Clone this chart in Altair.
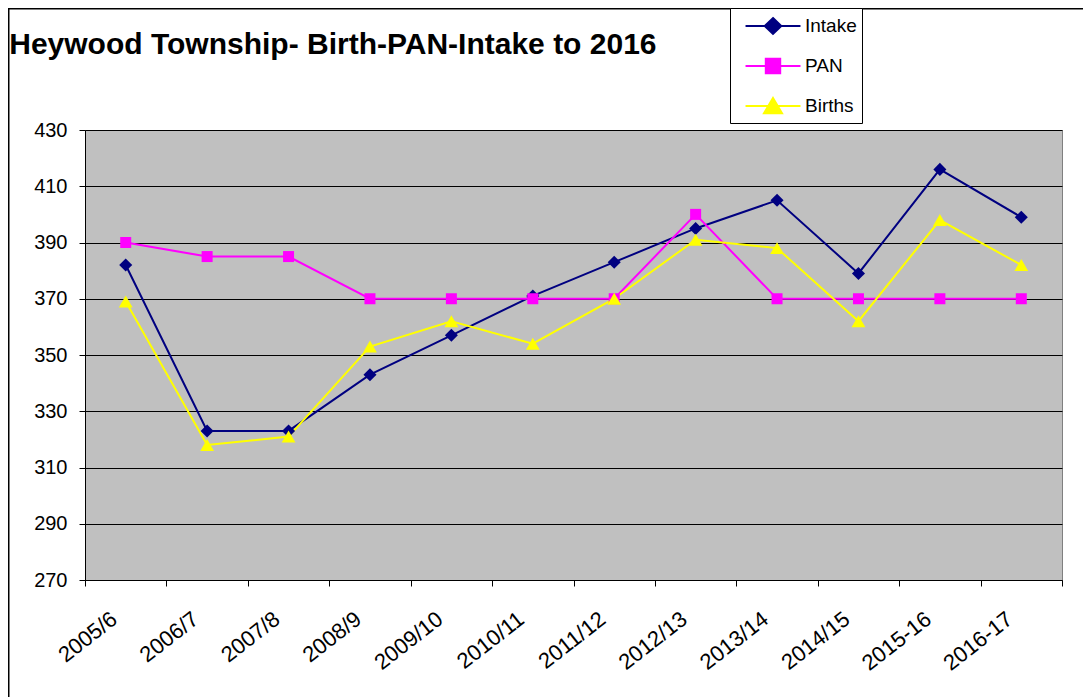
import altair as alt
import pandas as pd

categories = ["2005/6", "2006/7", "2007/8", "2008/9", "2009/10", "2010/11",
              "2011/12", "2012/13", "2013/14", "2014/15", "2015-16", "2016-17"]
intake = [382, 323, 323, 343, 357, 371, 383, 395, 405, 379, 416, 399]
pan = [390, 385, 385, 370, 370, 370, 370, 400, 370, 370, 370, 370]
births = [369, 318, 321, 353, 362, 354, 370, 391, 388, 362, 398, 382]

series = ["Intake", "PAN", "Births"]
colors = ["#000080", "#FF00FF", "#FFFF00"]
shapes = ["diamond", "square", "triangle-up"]
sizes = [170, 121, 190]
y_ticks = [270, 290, 310, 330, 350, 370, 390, 410, 430]

rows = []
for name, vals in zip(series, [intake, pan, births]):
    for c, v in zip(categories, vals):
        rows.append({"period": c, "series": name, "value": v})
df = pd.DataFrame(rows)

FONT = "Liberation Sans"
W, H = 977, 450
PAD = {"left": 77, "top": 122, "right": 21, "bottom": 117}

legend_shape = (
    "datum.value === 'Intake' ? 'M-2.29,0H2.29M0,-0.66L0.69,0L0,0.66L-0.69,0Z' : "
    "datum.value === 'PAN' ? 'M-2.29,0H2.29M-0.6,-0.6H0.6V0.6H-0.6Z' : "
    "'M-2.29,0H2.29M0,-0.66L0.75,0.6H-0.75Z'"
)

base = alt.Chart(df).encode(
    x=alt.X(
        "period:N",
        sort=categories,
        title=None,
        scale=alt.Scale(type="band", paddingInner=0, paddingOuter=0),
        axis=alt.Axis(
            tickBand="extent",
            labelAngle=-38,
            labelFont=FONT,
            labelFontSize=22,
            labelColor="black",
            labelPadding=22,
            labelOffset=-18,
            tickColor="black",
            tickSize=6,
            domainColor="black",
            grid=False,
        ),
    ),
    y=alt.Y(
        "value:Q",
        title=None,
        scale=alt.Scale(domain=[270, 430], nice=False, zero=False),
        axis=alt.Axis(
            values=y_ticks,
            labelFont=FONT,
            labelFontSize=20,
            labelColor="black",
            labelPadding=12,
            tickColor="black",
            tickSize=6,
            domainColor="black",
            grid=True,
            gridColor="black",
            gridWidth=1,
            gridOpacity=1,
        ),
    ),
    color=alt.Color(
        "series:N",
        sort=series,
        scale=alt.Scale(domain=series, range=colors),
        legend=alt.Legend(
            title=None,
            orient="none",
            legendX=645,
            legendY=-122,
            fillColor="white",
            strokeColor="black",
            padding=5,
            symbolSize=576,
            symbolStrokeWidth=2,
            symbolType=alt.ExprRef(expr=legend_shape),
            symbolOffset=25,
            symbolOpacity=1,
            labelFont=FONT,
            labelFontSize=19,
            labelColor="black",
            labelOffset=19,
            rowPadding=15,
        ),
    ),
)

layers = [base.mark_line(strokeWidth=2)]
for name, shp, sz in zip(series, shapes, sizes):
    layers.append(
        base.transform_filter(alt.datum.series == name)
        .mark_point(filled=True, opacity=1, shape=shp, size=sz)
    )

frame_src = alt.Chart(pd.DataFrame({"f": [0]}))
frame_top = frame_src.mark_rule(color="black", strokeWidth=1.5).encode(
    x=alt.value(-PAD["left"]),
    x2=alt.value(W + PAD["right"]),
    y=alt.value(-PAD["top"] + 0.75),
)
frame_left = frame_src.mark_rule(color="black", strokeWidth=1.5).encode(
    x=alt.value(-PAD["left"] + 0.75),
    y=alt.value(-PAD["top"]),
    y2=alt.value(H + PAD["bottom"]),
)

chart = (
    alt.layer(frame_top, frame_left, *layers)
    .properties(
        width=W,
        height=H,
        autosize=alt.AutoSizeParams(type="none"),
        padding=PAD,
        title=alt.TitleParams(
            "Heywood Township- Birth-PAN-Intake to 2016",
            anchor="start",
            font=FONT,
            fontSize=30,
            fontWeight="bold",
            color="black",
            dx=2,
            dy=57,
        ),
        background="white",
    )
    .configure_view(fill="#C0C0C0", stroke="#808080", strokeWidth=1)
)

chart.save("out.html", embed_options={"renderer": "svg", "actions": False})
